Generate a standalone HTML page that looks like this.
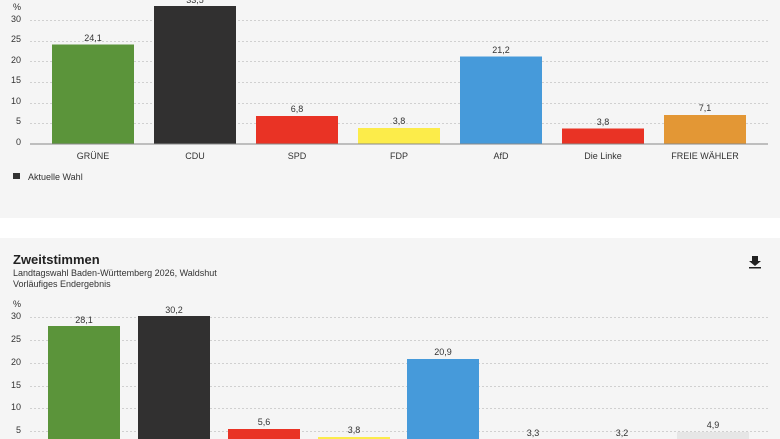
<!DOCTYPE html>
<html><head><meta charset="utf-8"><style>
html,body{margin:0;padding:0;background:#fff;}
svg{display:block;font-family:"Liberation Sans",sans-serif;}
</style></head><body>
<svg width="780" height="439" viewBox="0 0 780 439" xmlns="http://www.w3.org/2000/svg">
<rect x="0" y="0" width="780" height="218" fill="#f5f5f5"/>
<rect x="0" y="238" width="780" height="201" fill="#f5f5f5"/>
<g stroke="#d0d0d0" stroke-dasharray="2,2" stroke-width="1">
<line x1="30" x2="768" y1="20.5" y2="20.5"/><line x1="30" x2="768" y1="41.5" y2="41.5"/>
<line x1="30" x2="768" y1="61.5" y2="61.5"/><line x1="30" x2="768" y1="82.5" y2="82.5"/>
<line x1="30" x2="768" y1="103.5" y2="103.5"/><line x1="30" x2="768" y1="123.5" y2="123.5"/>
</g>
<g font-size="9" fill="#333" text-anchor="end">
<text x="21" y="10">%</text>
<text x="21" y="22">30</text><text x="21" y="42">25</text><text x="21" y="63">20</text>
<text x="21" y="83">15</text><text x="21" y="104">10</text><text x="21" y="124">5</text><text x="21" y="145">0</text>
</g>
<rect x="52" y="44.5" width="82" height="99.5" fill="#5b943a"/>
<rect x="154" y="6" width="82" height="138" fill="#313030"/>
<rect x="256" y="116" width="82" height="28" fill="#e93325"/>
<rect x="358" y="128" width="82" height="16" fill="#fcec4a"/>
<rect x="460" y="56.5" width="82" height="87.5" fill="#469ada"/>
<rect x="562" y="128.5" width="82" height="15.5" fill="#e93325"/>
<rect x="664" y="115" width="82" height="29" fill="#e39735"/>
<line x1="30" x2="768" y1="144" y2="144" stroke="#888" stroke-width="1"/>
<g font-size="9" fill="#333" text-anchor="middle">
<text x="93" y="41">24,1</text><text x="195" y="3">33,5</text><text x="297" y="112">6,8</text>
<text x="399" y="124">3,8</text><text x="501" y="53">21,2</text><text x="603" y="125">3,8</text><text x="705" y="111">7,1</text>
<text x="93" y="159">GRÜNE</text><text x="195" y="159">CDU</text><text x="297" y="159">SPD</text>
<text x="399" y="159">FDP</text><text x="501" y="159">AfD</text><text x="603" y="159">Die Linke</text><text x="705" y="159">FREIE WÄHLER</text>
</g>
<rect x="13" y="173" width="7" height="6" fill="#333"/>
<text x="28" y="180" font-size="9" fill="#333">Aktuelle Wahl</text>

<text x="13" y="264" font-size="13" font-weight="bold" fill="#222">Zweitstimmen</text>
<text x="13" y="276" font-size="9" fill="#333">Landtagswahl Baden-Württemberg 2026, Waldshut</text>
<text x="13" y="287" font-size="9" fill="#333">Vorläufiges Endergebnis</text>
<g fill="#222"><rect x="752" y="256" width="6" height="5"/><polygon points="749,261 761,261 755,266"/><rect x="749" y="267" width="12" height="1.5"/></g>
<g stroke="#d0d0d0" stroke-dasharray="2,2" stroke-width="1">
<line x1="30" x2="768" y1="317.5" y2="317.5"/><line x1="30" x2="768" y1="340.5" y2="340.5"/>
<line x1="30" x2="768" y1="363.5" y2="363.5"/><line x1="30" x2="768" y1="386.5" y2="386.5"/>
<line x1="30" x2="768" y1="408.5" y2="408.5"/><line x1="30" x2="768" y1="431.5" y2="431.5"/>
</g>
<g font-size="9" fill="#333" text-anchor="end">
<text x="21" y="307">%</text>
<text x="21" y="319">30</text><text x="21" y="342">25</text><text x="21" y="365">20</text>
<text x="21" y="388">15</text><text x="21" y="410">10</text><text x="21" y="433">5</text>
</g>
<rect x="48" y="326" width="72" height="130" fill="#5b943a"/>
<rect x="138" y="316" width="72" height="140" fill="#313030"/>
<rect x="228" y="429" width="72" height="30" fill="#e93325"/>
<rect x="318" y="437" width="72" height="20" fill="#fcec4a"/>
<rect x="407" y="359" width="72" height="100" fill="#469ada"/>
<rect x="677" y="432" width="72" height="20" fill="#e6e6e6"/>
<g font-size="9" fill="#333" text-anchor="middle">
<text x="84" y="323">28,1</text><text x="174" y="313">30,2</text><text x="264" y="425">5,6</text>
<text x="354" y="433">3,8</text><text x="443" y="355">20,9</text><text x="533" y="436">3,3</text>
<text x="622" y="436">3,2</text><text x="713" y="428">4,9</text>
</g>
</svg>
</body></html>
